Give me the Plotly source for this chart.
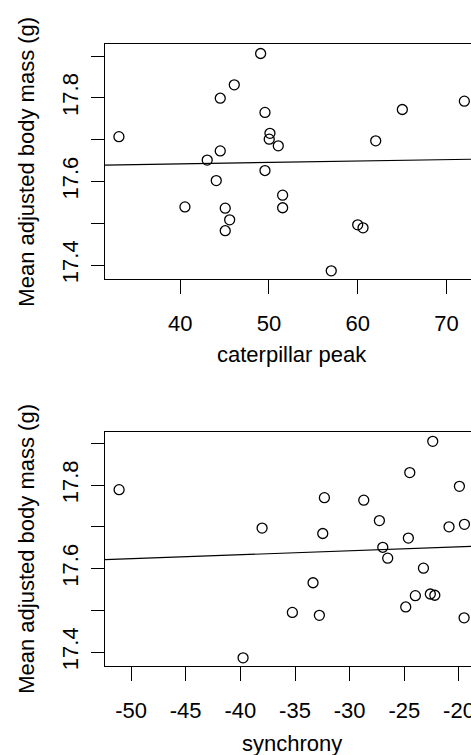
import plotly.graph_objects as go

# ---- data ----
cat_peak = [33.09, 40.53, 43.04, 44.06, 44.51, 44.51, 45.07, 45.07, 45.57, 46.09,
            49.06, 49.55, 49.55, 50.11, 50.03, 51.05, 51.54, 51.54, 57.02, 60.0,
            60.6, 62.03, 65.03, 72.02]
cat_mass = [17.707, 17.539, 17.651, 17.602, 17.673, 17.799, 17.536, 17.482, 17.508, 17.831,
            17.906, 17.765, 17.626, 17.715, 17.701, 17.685, 17.567, 17.537, 17.386, 17.496,
            17.489, 17.697, 17.772, 17.792]

sync = [-51.09, -39.75, -38.01, -35.24, -33.35, -32.77, -32.46, -32.31, -28.71, -27.28,
        -26.97, -26.52, -24.87, -24.63, -24.50, -23.99, -23.25, -22.62, -22.21, -22.40,
        -20.91, -19.96, -19.50, -19.53]
sync_mass = [17.789, 17.386, 17.697, 17.495, 17.566, 17.488, 17.684, 17.770, 17.764, 17.715,
             17.651, 17.625, 17.508, 17.673, 17.830, 17.535, 17.601, 17.539, 17.536, 17.905,
             17.700, 17.797, 17.706, 17.482]

# fitted regression lines (values at the ends of the visible axis)
cat_fit_x = [31.52, 72.77]
cat_fit_y = [17.639, 17.653]
sync_fit_x = [-52.38, -18.9]
sync_fit_y = [17.6215, 17.653]

y_ticks = [17.4, 17.5, 17.6, 17.7, 17.8, 17.9]
y_ticktext = ["17.4", "", "17.6", "", "17.8", ""]
cat_xticks = [40, 50, 60, 70]
cat_xticktext = ["40", "50", "60", "70"]
sync_xticks = [-50, -45, -40, -35, -30, -25, -20]
sync_xticktext = ["-50", "-45", "-40", "-35", "-30", "-25", "-20"]

y_title = "Mean adjusted body mass (g)"
x_title_top = "caterpillar peak"
x_title_bottom = "synchrony"

# ---- figure ----
W, H = 471, 755
ML = 105
FONT = dict(family="Liberation Sans, Arial, sans-serif", size=22, color="black")

marker = dict(symbol="circle-open", size=10, color="black", line=dict(width=1.3, color="black"))

fig = go.Figure()
fig.add_trace(go.Scatter(x=cat_peak, y=cat_mass, mode="markers", marker=marker,
                         xaxis="x", yaxis="y", showlegend=False))
fig.add_trace(go.Scatter(x=cat_fit_x, y=cat_fit_y, mode="lines",
                         line=dict(color="black", width=1.2),
                         xaxis="x", yaxis="y", showlegend=False))
fig.add_trace(go.Scatter(x=sync, y=sync_mass, mode="markers", marker=marker,
                         xaxis="x2", yaxis="y2", showlegend=False))
fig.add_trace(go.Scatter(x=sync_fit_x, y=sync_fit_y, mode="lines",
                         line=dict(color="black", width=1.2),
                         xaxis="x2", yaxis="y2", showlegend=False))


def px_to_paper_y(py):
    return 1 - py / H


top_dom = [px_to_paper_y(279), px_to_paper_y(44.3)]
bot_dom = [px_to_paper_y(666), px_to_paper_y(431.7)]

xcommon = dict(showline=True, linecolor="black", linewidth=1.2, mirror=True,
               ticks="outside", ticklen=14, tickwidth=1.2, tickcolor="black",
               showgrid=False, zeroline=False, tickfont=FONT, automargin=False,
               ticklabelstandoff=10, ticklabeloverflow="allow")
ycommon = dict(showline=True, linecolor="black", linewidth=1.2, mirror=False,
               ticks="outside", ticklen=13, tickwidth=1.2, tickcolor="black",
               showgrid=False, zeroline=False, tickfont=FONT, automargin=False,
               tickvals=y_ticks, ticktext=y_ticktext, tickangle=-90,
               range=[17.3665, 17.928], ticklabelstandoff=4)

fig.update_layout(
    width=W, height=H,
    margin=dict(l=ML, r=0, t=0, b=0),
    paper_bgcolor="white", plot_bgcolor="white",
    font=FONT,
    xaxis=dict(xcommon, domain=[0, 1], anchor="y", range=[31.52, 72.77],
               tickvals=cat_xticks, ticktext=cat_xticktext),
    yaxis=dict(ycommon, domain=top_dom, anchor="x"),
    xaxis2=dict(xcommon, domain=[0, 1], anchor="y2", range=[-52.38, -18.9],
                tickvals=sync_xticks, ticktext=sync_xticktext),
    yaxis2=dict(ycommon, domain=bot_dom, anchor="x2"),
)

plot_w = W - ML


def px_to_paper_x(px):
    return (px - ML) / plot_w


ann = []
for yc in [(44.3 + 279) / 2, (431.7 + 666) / 2]:
    ann.append(dict(text=y_title, x=px_to_paper_x(27), y=px_to_paper_y(yc),
                    xref="paper", yref="paper", xanchor="center", yanchor="middle",
                    textangle=-90, showarrow=False, font=FONT))
ann.append(dict(text=x_title_top, x=px_to_paper_x(291.6), y=px_to_paper_y(355),
                xref="paper", yref="paper", xanchor="center", yanchor="middle",
                showarrow=False, font=FONT))
ann.append(dict(text=x_title_bottom, x=px_to_paper_x(291.6), y=px_to_paper_y(743),
                xref="paper", yref="paper", xanchor="center", yanchor="middle",
                showarrow=False, font=FONT))
fig.update_layout(annotations=ann)

fig.write_html(
    "out.html",
    config={"displayModeBar": False},
    post_script="document.body.style.margin='0';document.body.style.overflow='hidden';",
)
